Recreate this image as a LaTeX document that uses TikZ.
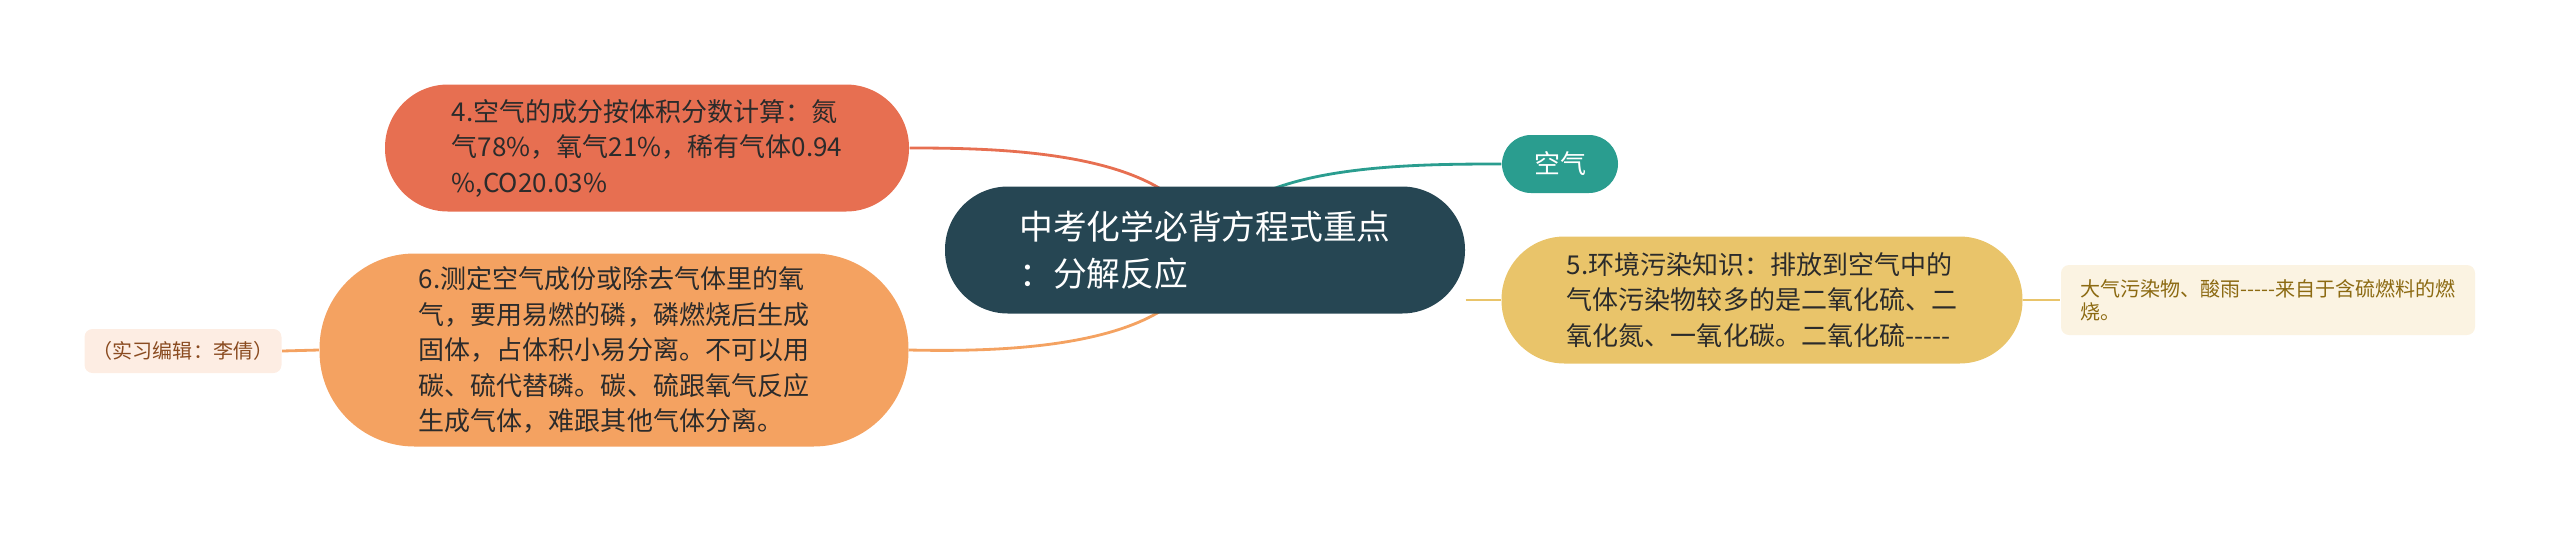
\documentclass[tikz,border=0pt]{standalone}
\usepackage{fontspec}
\setmainfont{Noto Sans CJK SC}
\usetikzlibrary{backgrounds}
\tikzset{>=latex}
\tikzset{every text node part/.style={align=left}}
\definecolor{rootblue}{HTML}{264653}
\definecolor{airteal}{HTML}{2A9D8F}
\definecolor{coral}{HTML}{E76F51}
\definecolor{sand}{HTML}{E9C46A}
\definecolor{peach}{HTML}{F4A261}
\definecolor{sandleaf}{HTML}{FBF3E2}
\definecolor{sandtext}{HTML}{8C6A12}
\definecolor{peachleaf}{HTML}{FDEDE3}
\definecolor{peachtext}{HTML}{8A4B20}
\definecolor{inktext}{HTML}{2B2B2B}
\tikzset{
	root/.style={fill=rootblue, text=white, rounded corners=6.3mm, minimum width=52mm, minimum height=12.7mm, inner sep=0pt, font=\fontsize{9.6}{13.2}\selectfont, align=center},
	branch/.style={rounded corners=#1, text=inktext, inner sep=0pt, font=\fontsize{7.4}{10.1}\selectfont},
	leaf/.style={rounded corners=0.8mm, inner sep=0pt, font=\fontsize{5.7}{6.6}\selectfont},
	link/.style={line width=0.8pt}
}
\newcommand{\dashes}{-{}-{}-{}-{}-}

\begin{document}
\begin{tikzpicture}[x=0.1mm, y=-0.1mm, line cap=round, line join=round]
	\useasboundingbox (0,0) rectangle (2560,533);

	% Central Topic
	\node[root] (root) at (1205,250) {中考化学必背方程式重点\\：分解反应};

	% Main Branches
	\node[branch=2.9mm, fill=airteal, text=white, minimum width=11.6mm, minimum height=5.8mm] (air) at (1560,164) {空气};
	\node[branch=6.3mm, fill=coral, minimum width=52.4mm, minimum height=12.7mm] (share) at (647,148) {4.空气的成分按体积分数计算：氮\\气78\%，氧气21\%，稀有气体0.94\\\%,CO20.03\%};
	\node[branch=6.3mm, fill=sand, minimum width=52.1mm, minimum height=12.7mm] (pollute) at (1762,300) {5.环境污染知识：排放到空气中的\\气体污染物较多的是二氧化硫、二\\氧化氮、一氧化碳。二氧化硫\dashes};
	\node[branch=9.5mm, fill=peach, minimum width=58.9mm, minimum height=19.3mm] (measure) at (614,350) {6.测定空气成份或除去气体里的氧\\气，要用易燃的磷，磷燃烧后生成\\固体，占体积小易分离。不可以用\\碳、硫代替磷。碳、硫跟氧气反应\\生成气体，难跟其他气体分离。};

	% Leaves
	\node[leaf, fill=sandleaf, text=sandtext, minimum width=41.4mm, minimum height=7mm] (acid) at (2268,300) {大气污染物、酸雨\dashes 来自于含硫燃料的燃\\烧。};
	\node[leaf, fill=peachleaf, text=peachtext, minimum width=19.7mm, minimum height=4.4mm] (editor) at (183,351) {（实习编辑：李倩）};

	% Connectors
	\begin{scope}[on background layer]
		\draw[link, coral] (root.center) .. controls (1190,150) and (1000,148) .. (share.east);
		\draw[link, airteal] (root.center) .. controls (1230,165) and (1400,164) .. (air.west);
		\draw[link, peach] (root.center) .. controls (1190,350) and (1000,352) .. (measure.east);
		\draw[link, sand] (pollute.west -| root.east) -- (pollute.west);
		\draw[link, sand] (pollute.east) -- (acid.west);
		\draw[link, peach] (measure.west) -- (editor.east);
	\end{scope}
\end{tikzpicture}
\end{document}
